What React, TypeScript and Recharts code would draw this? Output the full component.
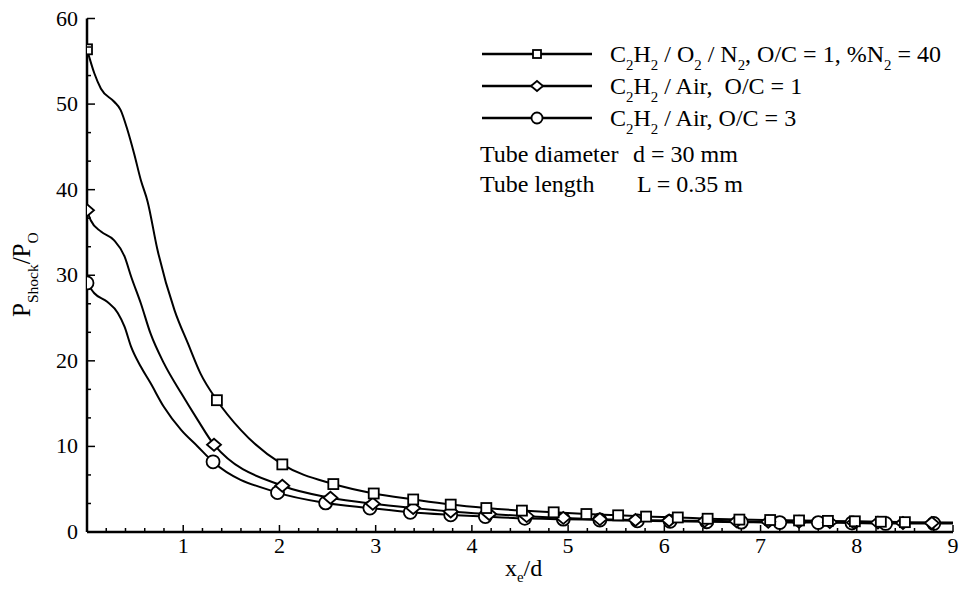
import React from "react";
import { ComposedChart, Line, Scatter, XAxis, YAxis } from "recharts";

// C2H2 / O2 / N2, O/C = 1, %N2 = 40  (square marks)
const sqMarkX = [0, 1.35, 2.03, 2.56, 2.98, 3.39, 3.78, 4.15, 4.52, 4.85, 5.19, 5.52, 5.81, 6.14, 6.45, 6.78, 7.1, 7.4, 7.7, 7.98, 8.25, 8.5];
const sqMarkY = [56.4, 15.4, 7.9, 5.6, 4.5, 3.8, 3.2, 2.8, 2.5, 2.3, 2.1, 1.95, 1.8, 1.7, 1.55, 1.45, 1.4, 1.35, 1.3, 1.25, 1.2, 1.15];
// unmarked points along the fitted curve
const sqCurveX = [0.076, 0.145, 0.28, 0.35, 0.42, 0.49, 0.56, 0.63, 0.73, 0.91, 1.05, 1.18, 1.6, 9];
const sqCurveY = [53.6, 51.8, 50.3, 49.3, 47.0, 44.2, 41.1, 38.6, 33.1, 25.9, 22.0, 18.5, 11.9, 1.1];

// C2H2 / Air, O/C = 1  (diamond marks)
const dmMarkX = [0, 1.32, 2.03, 2.53, 2.97, 3.39, 3.78, 4.18, 4.57, 4.95, 5.33, 5.7, 6.05, 6.42, 6.75, 7.08, 7.4, 7.72, 7.97, 8.22, 8.48, 8.78];
const dmMarkY = [37.6, 10.2, 5.4, 4.0, 3.3, 2.8, 2.4, 2.1, 1.85, 1.65, 1.5, 1.4, 1.35, 1.3, 1.25, 1.2, 1.2, 1.15, 1.1, 1.1, 1.05, 1.05];
const dmCurveX = [0.04, 0.145, 0.28, 0.39, 0.46, 0.56, 0.66, 0.8, 0.98, 1.15, 9];
const dmCurveY = [36.4, 35.1, 34.1, 32.2, 29.8, 26.7, 23.2, 19.7, 16.2, 13.1, 1.05];

// C2H2 / Air, O/C = 3  (circle marks)
const ciMarkX = [0, 1.31, 1.98, 2.48, 2.94, 3.36, 3.78, 4.14, 4.55, 4.95, 5.33, 5.72, 6.06, 6.44, 6.8, 7.2, 7.6, 7.95, 8.3, 8.8];
const ciMarkY = [29.1, 8.2, 4.6, 3.4, 2.8, 2.3, 2.0, 1.8, 1.6, 1.5, 1.4, 1.3, 1.25, 1.2, 1.15, 1.1, 1.1, 1.05, 1.0, 1.0];
const ciCurveX = [0.076, 0.21, 0.32, 0.39, 0.46, 0.56, 0.66, 0.8, 0.98, 1.15, 9];
const ciCurveY = [27.9, 26.9, 25.6, 24.0, 21.6, 19.3, 17.4, 14.6, 11.9, 10.0, 1.0];

const xMajor = [1, 2, 3, 4, 5, 6, 7, 8, 9];
const yMajor = [0, 10, 20, 30, 40, 50, 60];

const xTicks = Array.from({ length: 46 }, (_, i) => +(i * 0.2).toFixed(2));
const yTicks = Array.from({ length: 19 }, (_, i) => +((i * 10) / 3).toFixed(3));

const W = 959;
const H = 589;
const PLOT = { left: 87, right: 953, top: 18.5, bottom: 532 };
const FONT = "Liberation Serif, Tinos, DejaVu Serif, serif";

type Pt = { x: number; y: number };
const zip = (xs: number[], ys: number[]): Pt[] => xs.map((x, i) => ({ x, y: ys[i] }));
const curve = (a: Pt[], b: Pt[]) => [...a, ...b].sort((p, q) => p.x - q.x);

const sqMarks = zip(sqMarkX, sqMarkY);
const dmMarks = zip(dmMarkX, dmMarkY);
const ciMarks = zip(ciMarkX, ciMarkY);
const sqLine = curve(sqMarks, zip(sqCurveX, sqCurveY));
const dmLine = curve(dmMarks, zip(dmCurveX, dmCurveY));
const ciLine = curve(ciMarks, zip(ciCurveX, ciCurveY));

const isMajor = (v: number, list: number[]) => list.some((m) => Math.abs(m - v) < 1e-6);

function Square({ cx, cy, s = 5 }: any) {
  return <rect x={cx - s} y={cy - s} width={2 * s} height={2 * s} fill="#fff" stroke="#000" strokeWidth={1.8} />;
}
function Diamond({ cx, cy, w = 7, h = 6 }: any) {
  return (
    <polygon
      points={`${cx - w},${cy} ${cx},${cy - h} ${cx + w},${cy} ${cx},${cy + h}`}
      fill="#fff"
      stroke="#000"
      strokeWidth={1.8}
    />
  );
}
function Circle({ cx, cy, r = 6.5 }: any) {
  return <circle cx={cx} cy={cy} r={r} fill="#fff" stroke="#000" strokeWidth={1.8} />;
}

const textStyle: React.CSSProperties = { fontFamily: FONT, whiteSpace: "pre" };

function LeftTick({ y, payload }: any) {
  const major = isMajor(payload.value, yMajor);
  return (
    <g>
      <line x1={PLOT.left} x2={PLOT.left + (major ? 8 : 4)} y1={y} y2={y} stroke="#000" strokeWidth={1.5} />
      {major && (
        <text x={PLOT.left - 9} y={y + 7} textAnchor="end" fontSize={22} style={textStyle} fill="#000">
          {Math.round(payload.value)}
        </text>
      )}
    </g>
  );
}

function RightTick({ y, payload }: any) {
  const major = isMajor(payload.value, yMajor);
  return <line x1={PLOT.right} x2={PLOT.right - (major ? 8 : 4)} y1={y} y2={y} stroke="#000" strokeWidth={1.5} />;
}

function BottomTick({ x, payload }: any) {
  const major = isMajor(payload.value, xMajor);
  return (
    <g>
      <line x1={x} x2={x} y1={PLOT.bottom} y2={PLOT.bottom - (major ? 7 : 4)} stroke="#000" strokeWidth={1.5} />
      {major && (
        <text x={x} y={PLOT.bottom + 21} textAnchor="middle" fontSize={22} style={textStyle} fill="#000">
          {Math.round(payload.value)}
        </text>
      )}
    </g>
  );
}

// text with subscripts: [text, isSub]
type Part = [string, boolean?];
function Rich({ x, y, parts, size, transform, drop = 0.33 }: { x: number; y: number; parts: Part[]; size: number; transform?: string; drop?: number }) {
  const shift = size * drop;
  let prevSub = false;
  return (
    <text x={x} y={y} fontSize={size} fill="#000" transform={transform} style={textStyle}>
      {parts.map(([t, sub], i) => {
        const dy = (sub ? shift : 0) - (prevSub ? shift : 0);
        prevSub = !!sub;
        return (
          <tspan key={i} dy={dy} fontSize={sub ? size * 0.62 : size}>
            {t}
          </tspan>
        );
      })}
    </text>
  );
}

const legendRows: { parts: Part[]; mark: (cx: number, cy: number) => React.ReactNode }[] = [
  {
    parts: [["C"], ["2", true], ["H"], ["2", true], [" / O"], ["2", true], [" / N"], ["2", true], [", O/C = 1, %N"], ["2", true], [" = 40"]],
    mark: (cx, cy) => <Square cx={cx} cy={cy} s={4} />,
  },
  {
    parts: [["C"], ["2", true], ["H"], ["2", true], [" / Air,  O/C = 1"]],
    mark: (cx, cy) => <Diamond cx={cx} cy={cy} w={6} h={5} />,
  },
  {
    parts: [["C"], ["2", true], ["H"], ["2", true], [" / Air, O/C = 3"]],
    mark: (cx, cy) => <Circle cx={cx} cy={cy} r={5.5} />,
  },
];

export default function App() {
  return (
    <div style={{ position: "absolute", left: 0, top: 0, width: W, height: H, background: "#fff" }}>
      <ComposedChart width={W} height={H} margin={{ top: PLOT.top, right: W - PLOT.right, bottom: 0, left: 0 }}>
        <XAxis
          dataKey="x"
          type="number"
          domain={[0, 9]}
          ticks={xTicks}
          interval={0}
          height={H - PLOT.bottom}
          tickLine={false}
          tick={<BottomTick />}
          axisLine={{ stroke: "#000", strokeWidth: 2.5 }}
          allowDataOverflow
        />
        <XAxis xAxisId="top" orientation="top" type="number" domain={[0, 9]} height={0} tick={false} tickLine={false} axisLine={{ stroke: "#000", strokeWidth: 2 }} />
        <YAxis
          type="number"
          domain={[0, 60]}
          ticks={yTicks}
          interval={0}
          width={PLOT.left}
          tickLine={false}
          tick={<LeftTick />}
          axisLine={{ stroke: "#000", strokeWidth: 2.5 }}
          allowDataOverflow
        />
        <YAxis
          yAxisId="right"
          orientation="right"
          type="number"
          domain={[0, 60]}
          ticks={yTicks}
          interval={0}
          width={0}
          tickLine={false}
          tick={<RightTick />}
          axisLine={{ stroke: "#000", strokeWidth: 2 }}
        />
        <Line data={sqLine} dataKey="y" type="monotone" stroke="#000" strokeWidth={2} dot={false} isAnimationActive={false} />
        <Line data={dmLine} dataKey="y" type="monotone" stroke="#000" strokeWidth={2} dot={false} isAnimationActive={false} />
        <Line data={ciLine} dataKey="y" type="monotone" stroke="#000" strokeWidth={2} dot={false} isAnimationActive={false} />
        <Scatter data={ciMarks} dataKey="y" shape={(p: any) => <Circle cx={p.cx} cy={p.cy} />} isAnimationActive={false} />
        <Scatter data={dmMarks} dataKey="y" shape={(p: any) => <Diamond cx={p.cx} cy={p.cy} />} isAnimationActive={false} />
        <Scatter data={sqMarks} dataKey="y" shape={(p: any) => <Square cx={p.cx} cy={p.cy} />} isAnimationActive={false} />
      </ComposedChart>

      <svg width={W} height={H} style={{ position: "absolute", left: 0, top: 0, pointerEvents: "none" }}>
        {legendRows.map((row, i) => {
          const cy = 54 + i * 32;
          return (
            <g key={i}>
              <line x1={482} x2={592} y1={cy} y2={cy} stroke="#000" strokeWidth={2.5} />
              {row.mark(537, cy)}
              <Rich x={610} y={cy + 8} parts={row.parts} size={24} />
            </g>
          );
        })}
        <text x={480} y={162} fontSize={24} style={textStyle} fill="#000">Tube diameter</text>
        <text x={633} y={162} fontSize={24} style={textStyle} fill="#000">d = 30 mm</text>
        <text x={480} y={192} fontSize={24} style={textStyle} fill="#000">Tube length</text>
        <text x={637} y={192} fontSize={24} style={textStyle} fill="#000">L = 0.35 m</text>

        <Rich x={30} y={317} parts={[["P"], ["Shock", true], ["/P"], ["O", true]]} size={25} transform="rotate(-90 30 317)" />
        <Rich x={505} y={576} parts={[["x"], ["e", true], ["/d"]]} size={24} drop={0.25} />
      </svg>
    </div>
  );
}
